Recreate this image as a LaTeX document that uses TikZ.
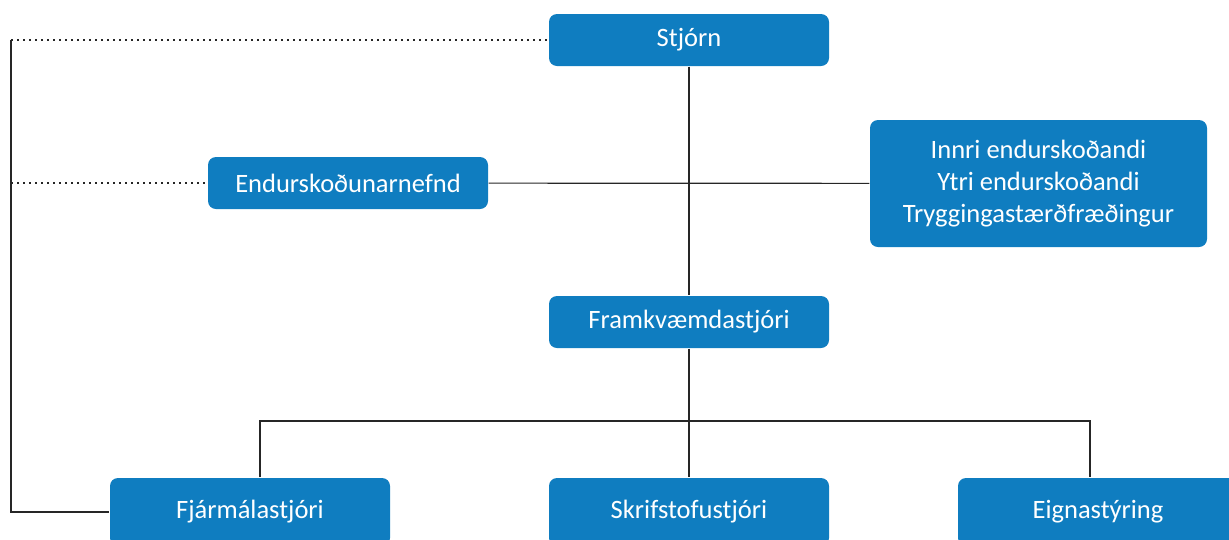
\documentclass[tikz,border=0pt]{standalone}
\usepackage{fontspec}
\setmainfont{Carlito}
\usepackage{xcolor}
\usetikzlibrary{positioning}
\definecolor{orgblue}{HTML}{0F7DC0}

\begin{document}
\begin{tikzpicture}[x=1pt,y=-1pt,line width=1.2pt]
\tikzstyle{unit}=[rectangle, rounded corners=8pt, fill=orgblue, text=white,
  minimum width=280pt, minimum height=52pt, inner sep=0pt,
  font=\fontsize{26.5}{32}\selectfont, align=center]
\tikzstyle{link}=[draw=black!85]
\tikzstyle{loose}=[draw=black!85, dash pattern=on 1.5pt off 4.5pt]
\clip (0,0) rectangle (1229,539);

\node[unit] (stjorn) at (689,40) {Stj\'orn};
\node[unit] (nefnd) at (348,183) {Endursko\dh unarnefnd};
\node[unit, minimum width=337pt, minimum height=127pt] (innri) at (1038.5,183.5)
  {Innri endursko\dh andi\\Ytri endursko\dh andi\\Tryggingast\ae r\dh fr\ae\dh ingur};
\node[unit] (framkv) at (689,322) {Framkv\ae mdastj\'ori};
\node[unit, minimum height=68pt] (fjarm) at (250,512) {Fj\'arm\'alastj\'ori};
\node[unit, minimum height=68pt] (skrif) at (689,512) {Skrifstofustj\'ori};
\node[unit, minimum height=68pt] (eign) at (1098,512) {Eignast\'yring};

\coordinate (bar) at (689,421);
\coordinate (side) at (11,40);

\path[link]
(stjorn) edge (framkv)
(nefnd) edge (innri)
(framkv) edge (skrif);
\draw[link] ([xshift=10pt]fjarm.north) |- (bar) -| ([xshift=-8pt]eign.north);
\draw[link] (side) |- (fjarm.west);
\draw[loose] (side) -- (stjorn.west);
\draw[loose] (side |- nefnd.west) -- (nefnd.west);
\end{tikzpicture}
\end{document}
